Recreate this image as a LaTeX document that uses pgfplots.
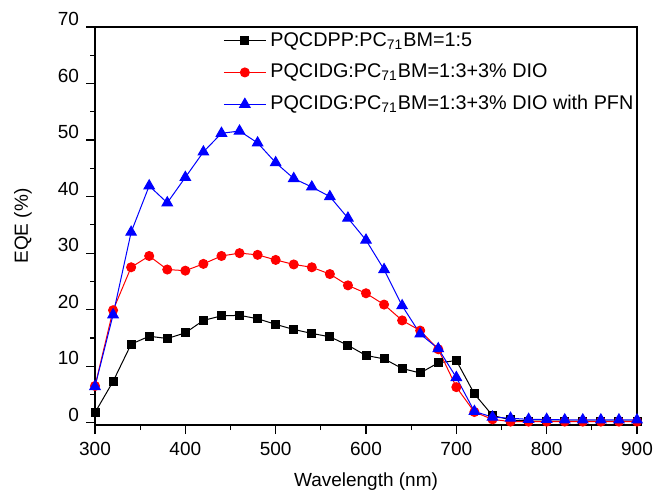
\documentclass[border=0pt]{standalone}
\usepackage{pgfplots}
\pgfplotsset{compat=1.18}
\usepackage{fontspec}
\setmainfont{Liberation Sans}

\pgfplotstableread{
x    a     b     c
300  1.8   6.5   6.4
320  7.3   19.9  19.1
340  13.9  27.5  33.7
360  15.3  29.5  41.9
380  14.9  27.1  38.9
400  15.9  26.9  43.4
420  18.1  28.1  47.9
440  18.9  29.5  51.2
460  19.0  30.0  51.6
480  18.4  29.7  49.5
500  17.4  28.8  46.0
520  16.5  28.0  43.2
540  15.8  27.5  41.7
560  15.2  26.3  40.0
580  13.7  24.3  36.2
600  11.9  22.9  32.3
620  11.3  20.9  27.1
640  9.6   18.1  20.7
660  8.8   16.3  15.7
680  10.6  13.0  13.1
700  11.0  6.3   8.0
720  5.1   1.9   2.0
740  1.3   0.6   1.0
760  0.5   0.2   0.8
780  0.3   0.2   0.6
800  0.3   0.2   0.6
820  0.3   0.2   0.5
840  0.3   0.2   0.5
860  0.3   0.2   0.5
880  0.3   0.2   0.5
900  0.3   0.2   0.5
}\eqe

\begin{document}
\begin{tikzpicture}
\begin{axis}[
  name=ax,
  width=271pt, height=199pt, scale only axis,
  xmin=300, xmax=900, ymin=-0.4, ymax=70,
  xtick={300,400,...,900}, ytick={0,10,...,70},
  minor x tick num=1, minor y tick num=1,
  tick pos=left, tick align=outside,
  major tick length=4.5pt, minor tick length=2.5pt,
  every tick/.style={black, line width=0.6pt},
  axis line style={line width=0.75pt},
  font=\fontsize{9.5}{11}\selectfont,
  /pgf/number format/assume math mode=true,
  yticklabel style={yshift=4pt},
  xticklabel style={yshift=-0.7pt},
  xlabel={Wavelength (nm)}, ylabel={EQE (\%)},
  every axis x label/.style={at={(axis description cs:0.5,-0.1432)}, anchor=center},
  every axis y label/.style={at={(axis description cs:-0.1328,0.5)}, rotate=90, anchor=center},
  legend style={draw=none, fill=none, at={(0.2250,1)}, yshift=1.5pt, anchor=north west,
    row sep=3.4pt, font=\fontsize{9.9}{11}\selectfont},
  legend cell align=left,
  legend image code/.code={%
    \draw[mark repeat=2, mark phase=2] plot coordinates {(0pt,0pt) (10.5pt,0pt) (21pt,0pt)};},
  every axis plot/.append style={line width=0.5pt},
]
\addplot[black, mark=square*, mark size=2pt] table[x=x, y=a] {\eqe};
\addlegendentry{PQCDPP:PC\textsubscript{71}BM=1:5}
\addplot[red, mark=*, mark size=2.25pt] table[x=x, y=b] {\eqe};
\addlegendentry{PQCIDG:PC\textsubscript{71}BM=1:3+3\% DIO}
\addplot[blue, mark=triangle*, mark size=3pt] table[x=x, y=c] {\eqe};
\addlegendentry{PQCIDG:PC\textsubscript{71}BM=1:3+3\% DIO with PFN}
\end{axis}
\pgfresetboundingbox
\path ([xshift=-47.5pt,yshift=-33.5pt]ax.south west) rectangle ([xshift=9.5pt,yshift=13.5pt]ax.north east);
\end{tikzpicture}
\end{document}
